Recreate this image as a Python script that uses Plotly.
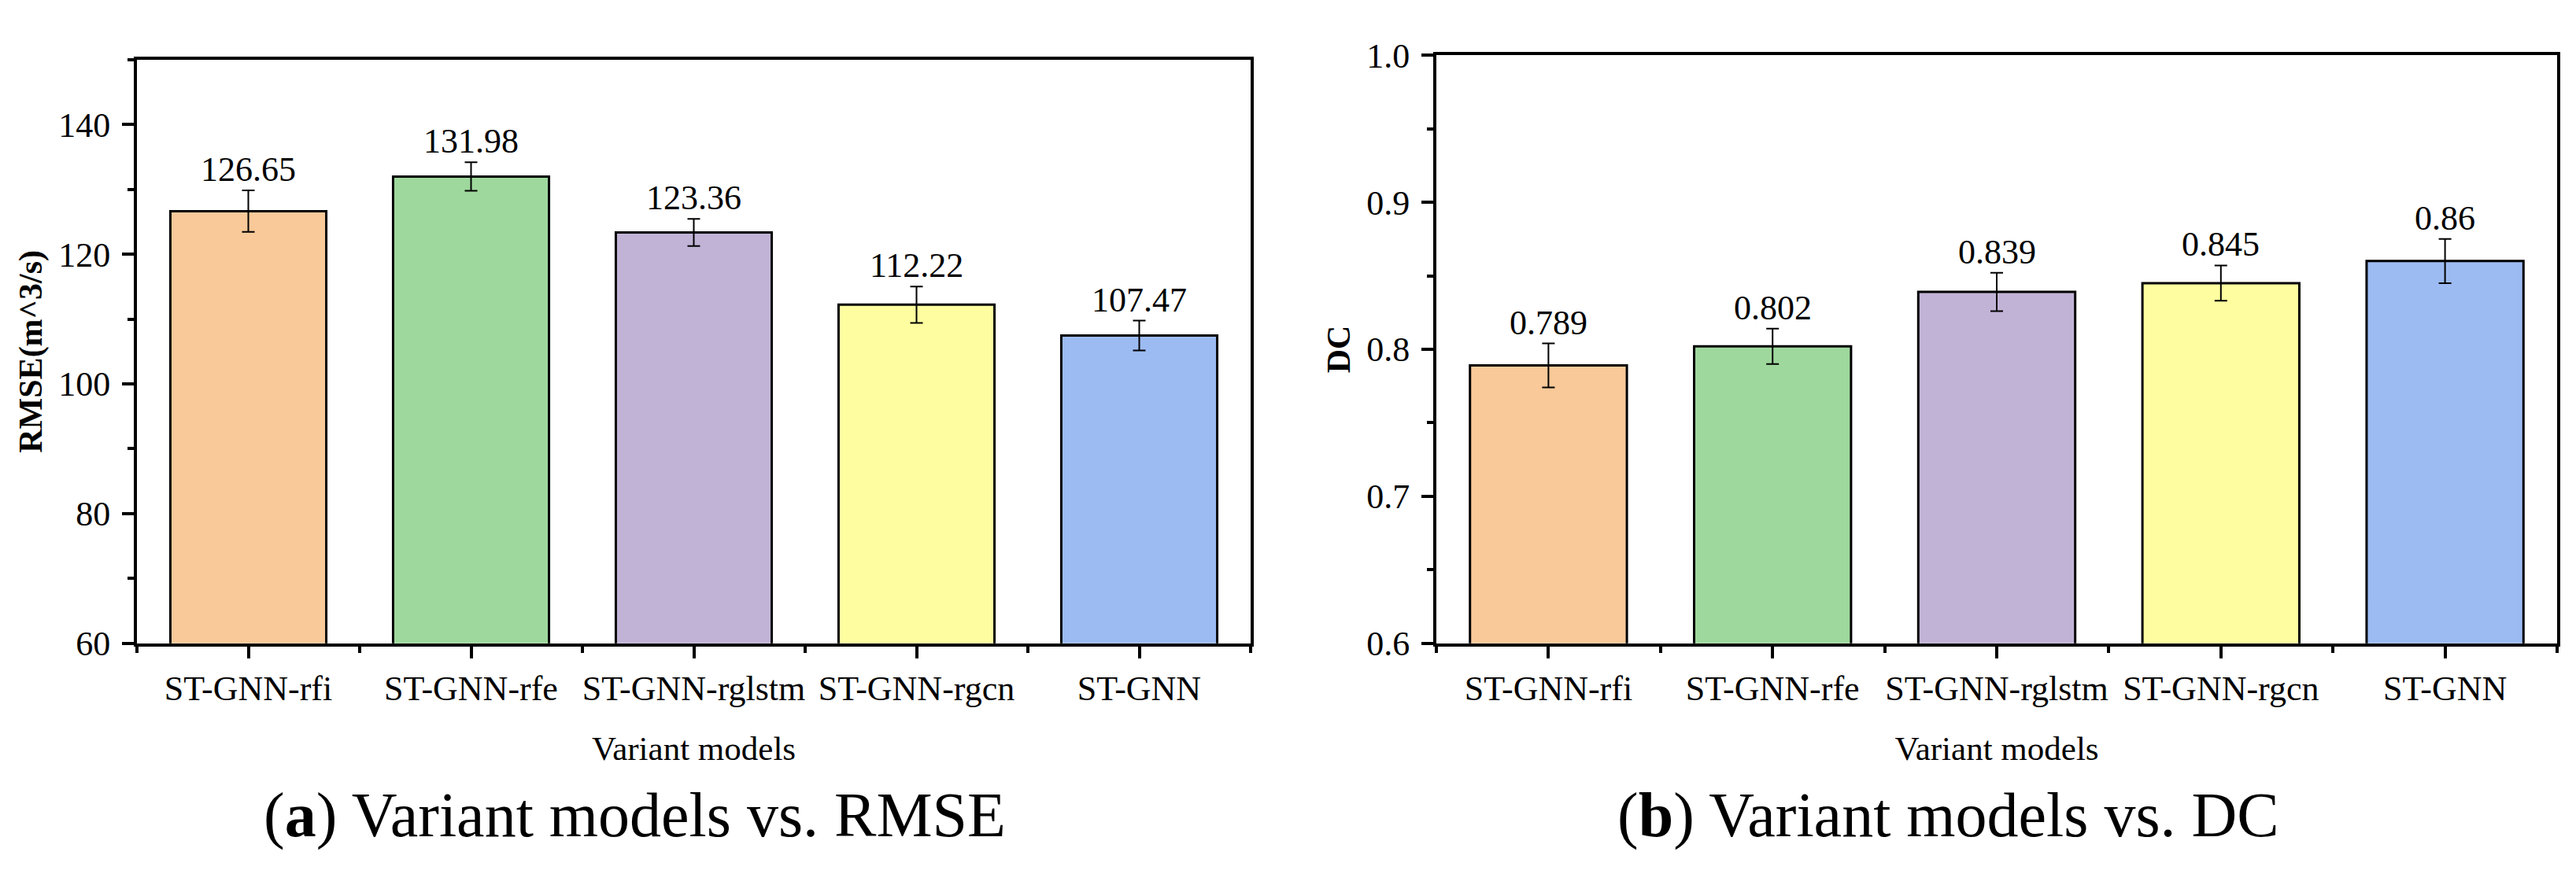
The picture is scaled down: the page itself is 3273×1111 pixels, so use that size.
import plotly.graph_objects as go

categories = ["ST-GNN-rfi", "ST-GNN-rfe", "ST-GNN-rglstm", "ST-GNN-rgcn", "ST-GNN"]
rmse_values = [126.65, 131.98, 123.36, 112.22, 107.47]
rmse_errors = [3.2, 2.2, 2.1, 2.8, 2.3]
dc_values = [0.789, 0.802, 0.839, 0.845, 0.86]
dc_errors = [0.015, 0.012, 0.013, 0.012, 0.015]
bar_colors = ["#F9C999", "#9ED89C", "#C1B3D6", "#FEFEA0", "#9CBBF2"]
rmse_ticks = [60, 80, 100, 120, 140]
dc_ticks = [0.6, 0.7, 0.8, 0.9, 1.0]

W, H = 3273, 1111
FONT = "Liberation Serif"
positions = list(range(len(categories)))

fig = go.Figure()

fig.add_trace(go.Bar(
    x=positions, y=rmse_values, width=0.7,
    marker=dict(color=bar_colors, line=dict(color="black", width=3)),
    error_y=dict(type="data", array=rmse_errors, color="black", thickness=2, width=8),
    xaxis="x", yaxis="y", showlegend=False,
))
fig.add_trace(go.Bar(
    x=positions, y=dc_values, width=0.7,
    marker=dict(color=bar_colors, line=dict(color="black", width=3)),
    error_y=dict(type="data", array=dc_errors, color="black", thickness=2, width=8),
    xaxis="x2", yaxis="y2", showlegend=False,
))

annotations = []
for i, (v, e) in enumerate(zip(rmse_values, rmse_errors)):
    annotations.append(dict(x=i, y=v + e, xref="x", yref="y", text=str(v),
                            showarrow=False, yanchor="bottom", yshift=0,
                            font=dict(family=FONT, size=44, color="black")))
for i, (v, e) in enumerate(zip(dc_values, dc_errors)):
    annotations.append(dict(x=i, y=v + e, xref="x2", yref="y2", text=str(v),
                            showarrow=False, yanchor="bottom", yshift=0,
                            font=dict(family=FONT, size=44, color="black")))

annotations.append(dict(x=798 / W, y=(H - 1051) / H, xref="paper", yref="paper",
                        text="(<b>a</b>) Variant models vs. RMSE", showarrow=False,
                        xanchor="center", yanchor="middle",
                        font=dict(family=FONT, size=80, color="black")))
annotations.append(dict(x=2467 / W, y=(H - 1051) / H, xref="paper", yref="paper",
                        text="(<b>b</b>) Variant models vs. DC", showarrow=False,
                        xanchor="center", yanchor="middle",
                        font=dict(family=FONT, size=80, color="black")))

tickfont = dict(family=FONT, size=44, color="black")
titlefont = dict(family=FONT, size=43, color="black")

def xaxis_style(domain, anchor):
    return dict(
        domain=domain, anchor=anchor, range=[-0.5, len(categories) - 0.5],
        tickmode="array", tickvals=positions, ticktext=categories,
        showline=True, linecolor="black", linewidth=4, mirror=True,
        ticks="outside", ticklen=15, tickwidth=4, tickcolor="black",
        minor=dict(ticks="outside", ticklen=8, tickwidth=4, tickcolor="black",
                   tick0=-0.5, dtick=1),
        showgrid=False, zeroline=False, tickfont=dict(tickfont),
        title=dict(text="Variant models", font=titlefont, standoff=38),
    )

def yaxis_style(domain, anchor, rng, ticks, dtick, title, fmt):
    return dict(
        domain=domain, anchor=anchor, range=rng,
        tickmode="array", tickvals=ticks, tickformat=fmt,
        showline=True, linecolor="black", linewidth=4, mirror=True,
        ticks="outside", ticklen=15, tickwidth=4, tickcolor="black",
        minor=dict(ticks="outside", ticklen=8, tickwidth=4, tickcolor="black",
                   tick0=rng[0], dtick=dtick),
        showgrid=False, zeroline=False, tickfont=dict(tickfont),
        ticklabelstandoff=6,
        title=dict(text=title, font=dict(family=FONT, size=42, color="black"), standoff=8),
    )

fig.update_layout(
    width=W, height=H,
    margin=dict(l=0, r=0, t=0, b=0),
    paper_bgcolor="white", plot_bgcolor="white",
    bargap=0.3,
    xaxis=xaxis_style([166 / W, 1581 / W], "y"),
    yaxis=yaxis_style([289 / H, 1065 / H], "x", [60, 150], rmse_ticks, 10,
                      "<b>RMSE(m^3/s)</b>", "d"),
    xaxis2=xaxis_style([1817 / W, 3241 / W], "y2"),
    yaxis2=yaxis_style([289 / H, 1071 / H], "x2", [0.6, 1.0], dc_ticks, 0.05,
                       "<b>DC</b>", ".1f"),
    annotations=annotations,
    font=dict(family=FONT, color="black"),
)

fig.write_html("out.html")
